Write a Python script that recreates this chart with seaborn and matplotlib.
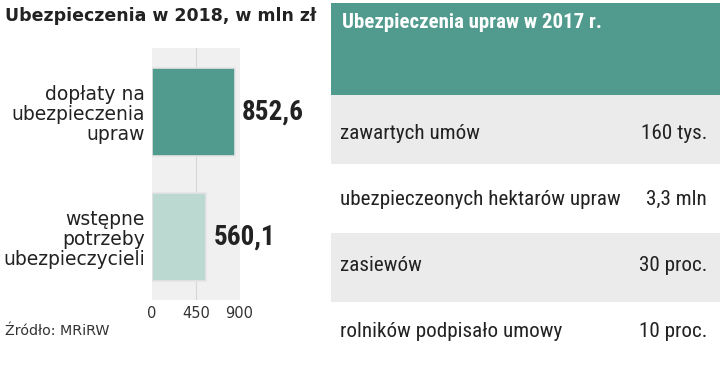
import seaborn as sns
import matplotlib.pyplot as plt
import pandas as pd
from matplotlib.patches import Rectangle

# data
categories = ['dopłaty na\nubezpieczenia\nupraw', 'wstępne\npotrzeby\nubezpieczycieli']
values = [852.6, 560.1]
value_labels = ['852,6', '560,1']
ticks = [0, 450, 900]

table_title = 'Ubezpieczenia upraw w 2017 r.'
row_names = ['zawartych umów', 'ubezpieczeonych hektarów upraw', 'zasiewów', 'rolników podpisało umowy']
row_values = ['160 tys.', '3,3 mln', '30 proc.', '10 proc.']

teal = '#519b8e'
light = '#bcd9d1'
dark = '#222222'

sns.set_theme(style='white')
plt.rcParams['font.family'] = ['DejaVu Sans']
narrow = ['Roboto Condensed', 'DejaVu Sans']
wide = ['DejaVu Sans']

fig = plt.figure(figsize=(7.2, 3.7), dpi=100)

# table drawn in pixel coordinates behind everything
bg = fig.add_axes([0, 0, 1, 1], zorder=0)
bg.set_xlim(0, 720)
bg.set_ylim(370, 0)
bg.axis('off')
bg.add_patch(Rectangle((331, 3), 389, 92, color=teal, lw=0))
bg.text(342, 27.5, table_title, color='white', fontsize=15, fontweight='bold',
        family=narrow, va='baseline', ha='left')
row_h = 69
for i, (name, val) in enumerate(zip(row_names, row_values)):
    top = 95 + i * row_h
    if i % 2 == 0:
        bg.add_patch(Rectangle((331, top), 389, row_h, color='#ebebeb', lw=0))
    base = 139 + i * 66
    bg.text(340, base, name, color=dark, fontsize=15.2, family=narrow,
            va='baseline', ha='left')
    bg.text(707, base, val, color=dark, fontsize=15.2, family=narrow,
            va='baseline', ha='right')

fig.text(5 / 720, 1 - 16 / 370, 'Ubezpieczenia w 2018, w mln zł', fontsize=12.5,
         fontweight='bold', family=wide, color=dark, va='center', ha='left')
fig.text(5 / 720, 1 - 331 / 370, 'Źródło: MRiRW', fontsize=10.3, family=wide,
         color='#333333', va='center', ha='left')

# bar chart
ax = fig.add_axes([152 / 720, 1 - 300 / 370, 88 / 720, 252 / 370], zorder=2)
df = pd.DataFrame({'kategoria': categories, 'wartosc': values})
sns.barplot(data=df, y='kategoria', x='wartosc', hue='kategoria', palette=[teal, light],
            saturation=1, width=0.7, edgecolor='#e4e4e4', linewidth=1.2,
            legend=False, ax=ax)
ax.set_facecolor('#f0f0f0')
ax.axvline(450, color='#d6d6d6', lw=0.8, zorder=0)
ax.set_xlim(0, 905)
ax.set_ylim(1.504, -0.512)
ax.set_xticks(ticks)
ax.set_xticklabels([str(t) for t in ticks], family=wide, fontsize=10.5, color='#333333')
ax.set_yticks(range(len(categories)))
ax.set_yticklabels(categories, family=wide, fontsize=13.5, color=dark, linespacing=1.05)
ax.tick_params(axis='y', length=0, pad=5)
ax.tick_params(axis='x', length=0, pad=4)
ax.set_xlabel('')
ax.set_ylabel('')
for s in ax.spines.values():
    s.set_visible(False)
for i, container in enumerate(ax.containers):
    ax.bar_label(container, labels=[value_labels[i]], padding=5, fontsize=19.5,
                 fontweight='bold', family=narrow, color=dark)

fig.savefig('out.png', dpi=100)
